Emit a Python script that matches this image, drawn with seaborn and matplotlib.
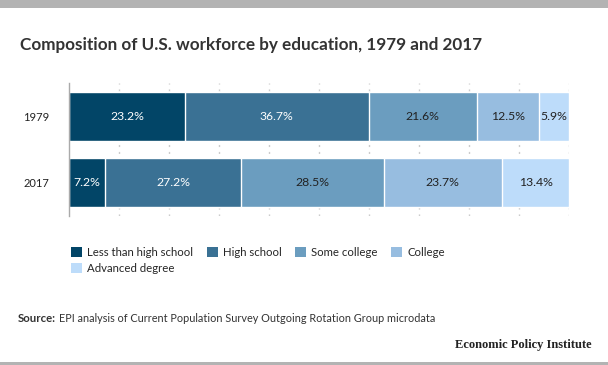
import numpy as np
import pandas as pd
import matplotlib
matplotlib.use("Agg")
import matplotlib.pyplot as plt
import seaborn as sns
from matplotlib.patches import Patch, Rectangle

sns.set_theme(style="white")
plt.rcParams["font.family"] = ["Lato", "DejaVu Sans"]

# ---------------------------------------------------------
# Data
# ---------------------------------------------------------
years = ["1979", "2017"]
categories = ["Less than high school", "High school", "Some college", "College", "Advanced degree"]
share_1979 = [23.2, 36.7, 21.6, 12.5, 5.9]
share_2017 = [7.2, 27.2, 28.5, 23.7, 13.4]
colors = ["#024567", "#3a7194", "#6b9dbf", "#97bde0", "#bddcfa"]
label_colors = ["white", "white", "#222222", "#222222", "#222222"]

df = pd.DataFrame({"Year": np.repeat(years, len(categories)),
                   "Category": categories * 2,
                   "Share": share_1979 + share_2017})
df["Cum"] = df.groupby("Year")["Share"].cumsum()
df["Left"] = df["Cum"] - df["Share"]

# ---------------------------------------------------------
# Figure
# ---------------------------------------------------------
fig = plt.figure(figsize=(6.08, 3.65), dpi=100)
ax = fig.add_axes([69 / 608, 1 - 216 / 365, 500 / 608, 133 / 365])

# stacked bars: draw cumulative totals from last to first
for i in reversed(range(len(categories))):
    sub = df[df["Category"] == categories[i]]
    sns.barplot(data=sub, x="Cum", y="Year", order=years, color=colors[i],
                saturation=1, width=0.73, orient="h", ax=ax, zorder=2)

for _, row in df.iterrows():
    i = categories.index(row["Category"])
    ax.text(row["Left"] + row["Share"] / 2, years.index(row["Year"]), f"{row['Share']:.1f}%",
            ha="center", va="center", fontsize=8.8, color=label_colors[i], zorder=3)

ax.set_xlim(0, 100)
ax.set_ylim(1.5, -0.5)
ax.set_xticks(np.arange(10, 101, 10))
ax.xaxis.grid(True, linestyle=(0, (1.5, 3.5)), color="#cccccc", linewidth=1, zorder=0)
ax.set_axisbelow(True)
ax.tick_params(axis="x", length=0, labelbottom=False)
ax.tick_params(axis="y", length=0, labelsize=8, pad=14, colors="#222222")
ax.set_xlabel("")
ax.set_ylabel("")
for s in ["top", "right", "bottom"]:
    ax.spines[s].set_visible(False)
ax.spines["left"].set_color("#aaaaaa")
ax.spines["left"].set_linewidth(1)

# legend, ordered so it reads row by row
handles = [Patch(facecolor=c, edgecolor="none") for c in colors]
order = [0, 4, 1, 2, 3]
fig.legend([handles[k] for k in order], [categories[k] for k in order], ncol=4, loc="upper left",
           bbox_to_anchor=(71 / 608, 1 - 247 / 365),
           frameon=False, fontsize=8.2, handlelength=1.0, handleheight=1.0, handletextpad=0.4,
           columnspacing=1.2, labelspacing=0.45, borderaxespad=0, borderpad=0)

# title, source, branding
fig.text(20 / 608, 1 - 45 / 365, "Composition of U.S. workforce by education, 1979 and 2017",
         fontsize=12.3, fontweight="bold", color="#333333", va="center", ha="left")
src = fig.text(18 / 608, 1 - 318 / 365, "Source:", fontsize=8.2, fontweight="bold", color="#333333", va="center")
fig.canvas.draw()
bb = src.get_window_extent()
fig.text((bb.x1 + 3) / 608, 1 - 318 / 365,
         "EPI analysis of Current Population Survey Outgoing Rotation Group microdata",
         fontsize=7.8, color="#333333", va="center")
fig.text(592 / 608, 1 - 345 / 365, "Economic Policy Institute", fontsize=9, fontweight="bold",
         family=["Liberation Serif"], color="#222222", ha="right", va="center")

fig.patches.append(Rectangle((0, 1 - 8 / 365), 1, 8 / 365, transform=fig.transFigure,
                             facecolor="#b3b3b3", edgecolor="none"))
fig.patches.append(Rectangle((0, 0), 1, 3 / 365, transform=fig.transFigure,
                             facecolor="#b3b3b3", edgecolor="none"))

fig.savefig("out.png", dpi=100)
